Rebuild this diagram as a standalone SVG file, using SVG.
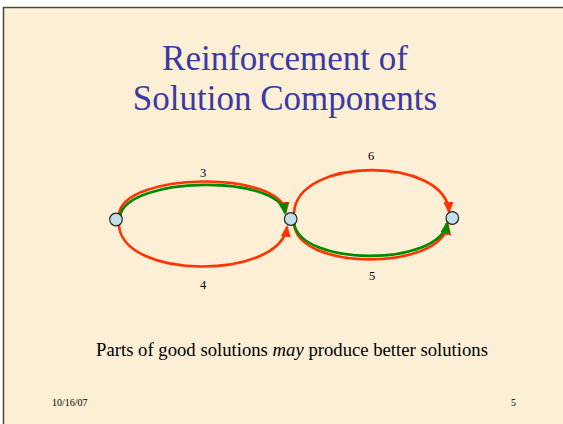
<svg xmlns="http://www.w3.org/2000/svg" width="563" height="424" viewBox="0 0 563 424">
<style>
.t{font-family:"Liberation Serif","Times New Roman","DejaVu Serif",serif;fill:#000}
.title{font-size:35px;fill:#3a3aa6;text-anchor:middle}
.lbl{font-size:12.5px;text-anchor:middle}
.foot{font-size:10px}
.red{fill:none;stroke:#ff3300;stroke-width:2.6}
.grn{fill:none;stroke:#008a00;stroke-width:2.6}
.node{fill:#bfe0e8;stroke:#222;stroke-width:1.2}
</style>
<defs>
<marker id="ar" markerUnits="userSpaceOnUse" markerWidth="12" markerHeight="10" viewBox="0 0 12 10" refX="10" refY="5" orient="auto"><path d="M0,0 L12,5 L0,10 Z" fill="#ff3300"/></marker>
<marker id="ag" markerUnits="userSpaceOnUse" markerWidth="12" markerHeight="10" viewBox="0 0 12 10" refX="10" refY="5" orient="auto"><path d="M0,0 L12,5 L0,10 Z" fill="#008a00"/></marker>
</defs>
<rect x="0" y="0" width="563" height="424" fill="#ffffff"/>
<rect x="3.5" y="7.5" width="600" height="500" fill="#fcefd6" stroke="#4a4838" stroke-width="1.5"/>
<text class="t title" x="285" y="70">Reinforcement of</text>
<text class="t title" x="285" y="110">Solution Components</text>
<g id="connectors">
<path class="red" d="M119,214 C125,172 280,170 286,212" marker-end="url(#ar)"/>
<path class="grn" d="M120,216 C127,176 279,174 285,213" marker-end="url(#ag)"/>
<path class="red" d="M119,225 C122,280 280,280 287,227" marker-end="url(#ar)"/>
<path class="red" d="M294,213 C297,156 446,156 449,212" marker-end="url(#ar)"/>
<path class="red" d="M294,224 C298,271 440,271 448,225" marker-end="url(#ar)"/>
<path class="grn" d="M294,222 C298,267 440,267 447,223" marker-end="url(#ag)"/>
</g>
<g id="n1"><circle class="node" cx="116" cy="219.5" r="6.3"/></g>
<g id="n2"><circle class="node" cx="290.7" cy="219" r="6.3"/></g>
<g id="n3"><circle class="node" cx="452.3" cy="218" r="6.3"/></g>
<text class="t lbl" x="203" y="177">3</text>
<text class="t lbl" x="203" y="289">4</text>
<text class="t lbl" x="371" y="160">6</text>
<text class="t lbl" x="372" y="280">5</text>
<text class="t" x="292" y="356" font-size="18.7" text-anchor="middle">Parts of good solutions <tspan font-style="italic">may</tspan> produce better solutions</text>
<text class="t foot" x="52" y="406">10/16/07</text>
<text class="t foot" x="516" y="406" text-anchor="end">5</text>
</svg>
